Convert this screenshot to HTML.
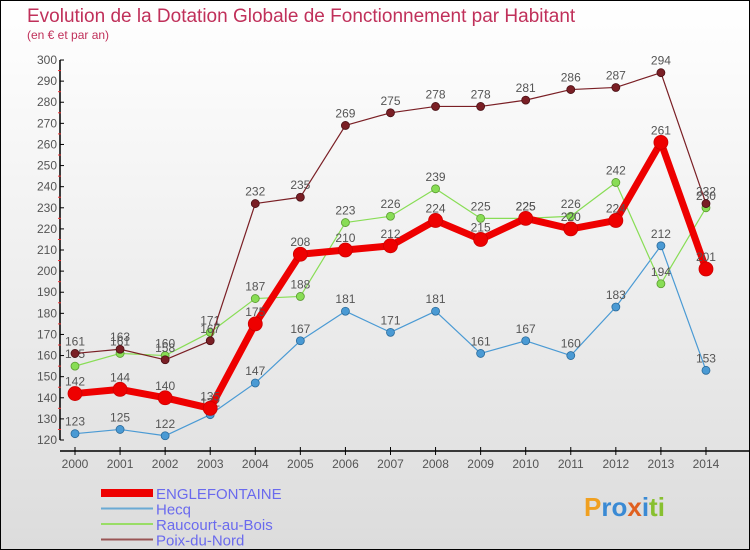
<!DOCTYPE html>
<html><head><meta charset="utf-8"><style>
body{margin:0}
#wrap{position:relative;width:748px;height:548px;border:1px solid #000;background:linear-gradient(#fff 0%,#f2f2f2 40%,#dcdcdc 100%);font-family:"Liberation Sans",sans-serif;overflow:hidden}
</style></head><body>
<div id="wrap">
<svg id="chart" width="748" height="548"></svg>
</div>
<script>
const years=[2000,2001,2002,2003,2004,2005,2006,2007,2008,2009,2010,2011,2012,2013,2014];
const englefontaine=[142,144,140,135,175,208,210,212,224,215,225,220,224,261,201];
const hecq=[123,125,122,132,147,167,181,171,181,161,167,160,183,212,153];
const raucourt=[155,161,160,171,187,188,223,226,239,225,225,226,242,194,230];
const poix=[161,163,158,167,232,235,269,275,278,278,281,286,287,294,232];
const yTicks=[120,130,140,150,160,170,180,190,200,210,220,230,240,250,260,270,280,290,300];
const NS="http://www.w3.org/2000/svg";
const svg=document.getElementById('chart');
function X(i){return 74+i*45.07;}
function Y(v){return 439-(v-120)*2.111;}
function mk(t,a,p){const e=document.createElementNS(NS,t);for(const k in a)e.setAttribute(k,a[k]);(p||svg).appendChild(e);return e;}
let t=mk('text',{x:26,y:21,'font-size':19,fill:'#c0305a'});t.textContent='Evolution de la Dotation Globale de Fonctionnement par Habitant';

t=mk('text',{x:26,y:38,'font-size':12,fill:'#c0305a'});t.textContent='(en € et par an)';

let ya=mk('line',{x1:59,y1:Y(300),x2:59,y2:Y(120),stroke:'#000','stroke-width':1.5});

let xa=mk('line',{x1:59,y1:450,x2:748,y2:450,stroke:'#000','stroke-width':1.5});

yTicks.forEach(v=>{
 mk('line',{x1:59,y1:Y(v),x2:63,y2:Y(v),stroke:'#000'});
 if(v<300) mk('line',{x1:57,y1:Y(v+5),x2:60,y2:Y(v+5),stroke:'#e33'});
 const l=mk('text',{x:56,y:Y(v)+4,'font-size':12,fill:'#555','text-anchor':'end'});l.textContent=v;
 
});
years.forEach((y,i)=>{
 mk('line',{x1:X(i),y1:446,x2:X(i),y2:454,stroke:'#000'});
 const l=mk('text',{x:X(i),y:467,'font-size':12,fill:'#555','text-anchor':'middle'});l.textContent=y;
 
});
function series(data,color,w,r,name,stroke){
 const g=mk('g',{});
 mk('polyline',{points:data.map((v,i)=>X(i)+','+Y(v)).join(' '),fill:'none',stroke:color,'stroke-width':w,'stroke-linejoin':'round'},g);
 data.forEach((v,i)=>{
  const c=mk('circle',{cx:X(i),cy:Y(v),r:r,fill:color,stroke:stroke,'stroke-width':0.8},g);
  
  const l=mk('text',{x:X(i),y:Y(v)-8,'font-size':12,fill:'#555','text-anchor':'middle'},g);l.textContent=v;
 });
}
series(hecq,'#4a9ad4',1.2,4,'hecq','#2a6a9a');
series(raucourt,'#88dd55',1.2,4,'raucourt','#5a9a30');
series(poix,'#7a1f25',1.2,4,'poix','#4a1015');
series(englefontaine,'#ee0000',7,7,'englefontaine','#cc0000');
const leg=[['ENGLEFONTAINE','#ee0000',8],['Hecq','#6aaad4',2],['Raucourt-au-Bois','#99dd66',2],['Poix-du-Nord','#995555',2]];
leg.forEach((d,i)=>{
 const y=492+i*15.5;
 const g=mk('g',{});
 mk('line',{x1:100,y1:y,x2:152,y2:y,stroke:d[1],'stroke-width':d[2]},g);
 const l=mk('text',{x:155,y:y+6,'font-size':15,fill:'#6a6aee'},g);l.textContent=d[0];
});
t=mk('text',{x:583,y:515,'font-size':26,'font-weight':'bold',fill:'#3a8ad4'});
t.innerHTML='<tspan fill="#f0a020">P</tspan>ro<tspan fill="#e06020">x</tspan><tspan fill="#3a8ad4">i</tspan><tspan fill="#88c030">ti</tspan>';

</script>
</body></html>
